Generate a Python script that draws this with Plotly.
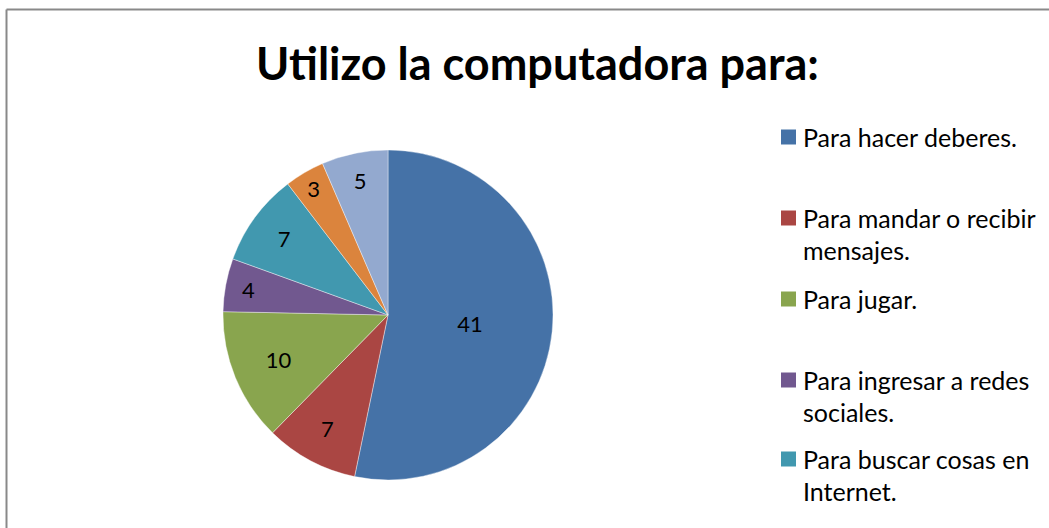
import plotly.graph_objects as go

# slice data, clockwise from 12 o'clock
labels = [
    "Para hacer deberes.",
    "Para mandar o recibir mensajes.",
    "Para jugar.",
    "Para ingresar a redes sociales.",
    "Para buscar cosas en Internet.",
    "Para ver videos.",
    "Otros.",
]
values = [41, 7, 10, 4, 7, 3, 5]
colors = ["#4572A7", "#AA4643", "#89A54E", "#71588F", "#4198AF", "#DB843D", "#93A9CF"]

# legend lines as they wrap in the original (only the first five fit in the frame)
legend_lines = [
    ["Para hacer deberes."],
    ["Para mandar o recibir", "mensajes."],
    ["Para jugar."],
    ["Para ingresar a redes", "sociales."],
    ["Para buscar cosas en", "Internet."],
]

W, H = 1049, 528
FONT = "Lato"

fig = go.Figure(go.Pie(
    labels=labels,
    values=values,
    sort=False,
    direction="clockwise",
    rotation=0,
    marker=dict(colors=colors, line=dict(color="white", width=0.4)),
    textinfo="value",
    textposition="inside",
    insidetextorientation="horizontal",
    textfont=dict(family=FONT, size=22, color="black"),
    showlegend=False,
    domain=dict(x=[223 / W, 553 / W], y=[1 - 480 / H, 1 - 150 / H]),
))

# chart frame (only top and left edges are inside the picture)
fig.add_shape(type="line", xref="paper", yref="paper",
              x0=6.5 / W, x1=1, y0=1 - 9.5 / H, y1=1 - 9.5 / H,
              line=dict(color="#898989", width=2))
fig.add_shape(type="line", xref="paper", yref="paper",
              x0=6.5 / W, x1=6.5 / W, y0=0, y1=1 - 9.5 / H,
              line=dict(color="#898989", width=2))

# title
fig.add_annotation(text="<b>Utilizo la computadora para:</b>", xref="paper", yref="paper",
                   x=537 / W, y=1 - 63 / H, xanchor="center", yanchor="middle",
                   showarrow=False, font=dict(family=FONT, size=45, color="black"))

# hand-placed legend
entry_y = [137, 218, 299, 380, 459]
line_gap = 32
for i, lines in enumerate(legend_lines):
    y = entry_y[i]
    fig.add_shape(type="rect", xref="paper", yref="paper",
                  x0=781 / W, x1=796 / W, y0=1 - (y + 7.5) / H, y1=1 - (y - 7.5) / H,
                  fillcolor=colors[i], line=dict(width=0))
    for j, txt in enumerate(lines):
        fig.add_annotation(text=txt, xref="paper", yref="paper",
                           x=801 / W, y=1 - (y + j * line_gap) / H,
                           xanchor="left", yanchor="middle", showarrow=False,
                           font=dict(family=FONT, size=25, color="black"))

fig.update_layout(
    width=W,
    height=H,
    margin=dict(l=0, r=0, t=0, b=0),
    paper_bgcolor="white",
    plot_bgcolor="white",
)

# drop the page's default body margin so the figure sits at the window corner
fig.write_html("out.html", config={"displayModeBar": False},
               post_script="document.body.style.margin='0';")
